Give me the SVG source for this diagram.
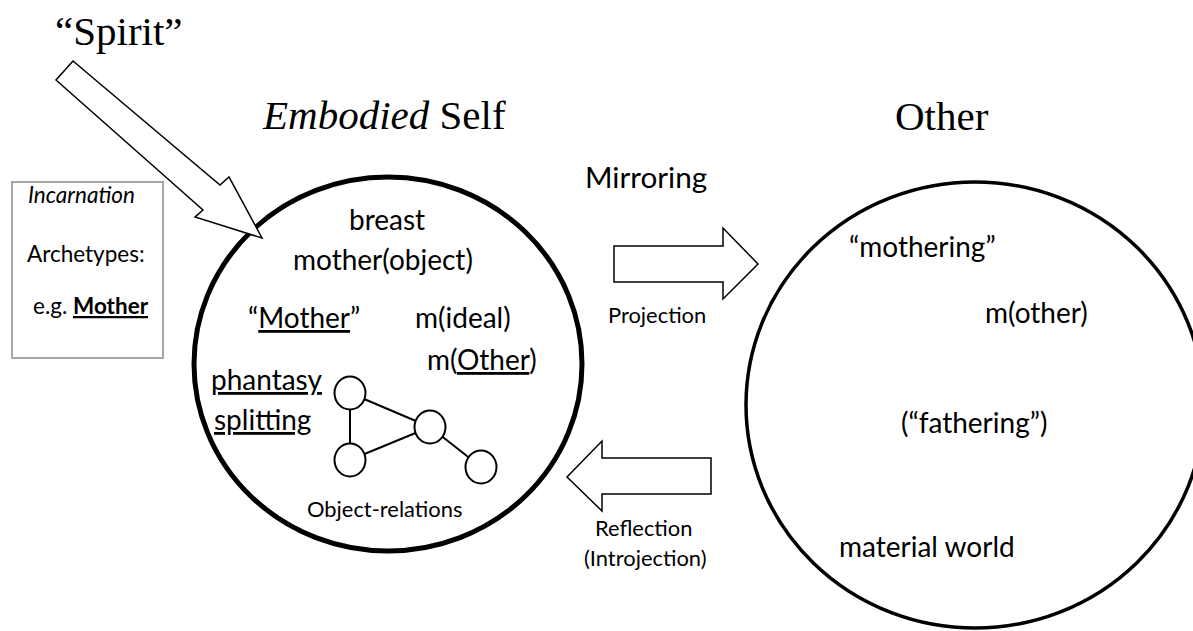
<svg xmlns="http://www.w3.org/2000/svg" width="1193" height="631" viewBox="0 0 1193 631">
<style>
.serif{font-family:"Liberation Serif","Times New Roman",serif;font-size:41px;fill:#000}
.t{font-family:Lato,"Open Sans",sans-serif;font-size:28px;fill:#000}
.s{font-family:Lato,"Open Sans",sans-serif;font-size:21.9px;fill:#000}
.b{font-family:Lato,"Open Sans",sans-serif;font-size:22.5px;fill:#000}
.u{text-decoration:underline}
.arrow{fill:#fff;stroke:#000;stroke-width:1.5;stroke-linejoin:miter}
.small{fill:#fff;stroke:#000;stroke-width:2}
.link{stroke:#000;stroke-width:2}
</style>
<rect width="1193" height="631" fill="#fff"/>

<g id="titles">
<text class="serif" x="55" y="45">“Spirit”</text>
<text class="serif" x="263" y="129"><tspan font-style="italic">Embodied</tspan> Self</text>
<text class="serif" x="895" y="130">Other</text>
</g>

<g id="incarnation-box">
<rect x="12" y="182" width="151" height="176" fill="#fff" stroke="#a6a6a6" stroke-width="2"/>
<text class="b" x="28" y="203" font-style="italic" font-size="23px">Incarnation</text>
<text class="b" x="27" y="262">Archetypes:</text>
<text class="b" x="33" y="314">e.g. <tspan class="u" font-weight="bold">Mother</tspan></text>
</g>

<g id="self">
<ellipse cx="388" cy="364" rx="194" ry="187" fill="none" stroke="#000" stroke-width="5"/>
<text class="t" x="349" y="230">breast</text>
<text class="t" x="293" y="270">mother(object)</text>
<text class="t" x="248" y="328">“<tspan class="u">Mother</tspan>”</text>
<text class="t" x="415" y="328">m(ideal)</text>
<text class="t" x="427" y="370">m(<tspan class="u">Other</tspan>)</text>
<text class="t u" x="211" y="390">phantasy</text>
<text class="t u" x="214" y="430">splitting</text>
<text class="s" x="307" y="517">Object-relations</text>
</g>

<g id="object-relations">
<line class="link" x1="350" y1="393" x2="350" y2="460"/>
<line class="link" x1="350" y1="393" x2="430" y2="427"/>
<line class="link" x1="350" y1="460" x2="430" y2="427"/>
<line class="link" x1="430" y1="427" x2="481" y2="467"/>
<ellipse class="small" cx="350" cy="393" rx="15.5" ry="16.5"/>
<ellipse class="small" cx="430" cy="427" rx="15.5" ry="16.5"/>
<ellipse class="small" cx="350" cy="460" rx="15.5" ry="16.5"/>
<ellipse class="small" cx="481" cy="467" rx="15.5" ry="16.5"/>
</g>

<g id="other">
<ellipse cx="975" cy="405" rx="229" ry="223" fill="none" stroke="#000" stroke-width="3.5"/>
<text class="t" x="849" y="257">“mothering”</text>
<text class="t" x="985" y="323">m(other)</text>
<text class="t" x="901" y="433">(“fathering”)</text>
<text class="t" x="839" y="557">material world</text>
</g>

<g id="connectors">
<polygon class="arrow" points="73,61 220,185 229,177 262,238 195,217 203,210 56,80"/>
<polygon class="arrow" points="614,246 723,246 723,228 758,264 723,299 723,282 614,282"/>
<polygon class="arrow" points="711,458 602,458 602,441 567,477 602,511 602,494 711,494"/>
<text style="font-family:Lato,'Open Sans',sans-serif;font-size:29.7px" x="585" y="188">Mirroring</text>
<text class="s" x="608" y="323">Projection</text>
<text class="s" x="595" y="536">Reflection</text>
<text class="s" x="584" y="566">(Introjection)</text>
</g>
</svg>
